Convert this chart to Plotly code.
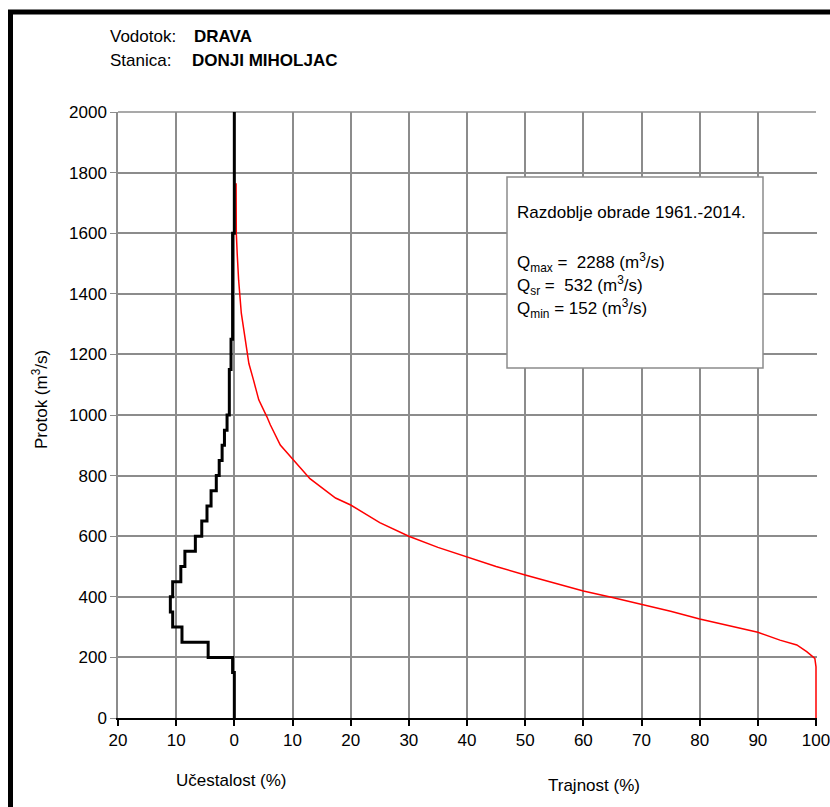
import plotly.graph_objects as go

# Frequency (Učestalost) histogram of discharge classes, in %
q_edges = [0, 150, 200, 250, 300, 350, 400, 450, 500, 550, 600, 650, 700, 750,
           800, 850, 900, 950, 1000, 1150, 1250, 1600, 2000]
freq = [0, 0.3, 4.5, 9.0, 10.6, 11.0, 10.6, 9.2, 8.5, 6.7, 5.6, 4.7, 4.0, 3.1,
        2.6, 2.1, 1.7, 1.25, 0.86, 0.57, 0.3, 0]

# Duration curve (Trajnost), %
dur_p = [0.3, 0.34, 0.5, 0.74, 1.2, 1.6, 2.5, 3.3, 4.2, 5.6, 6.2, 7.9, 10.0, 13.0,
         17.4, 20.0, 25.0, 30.0, 35.0, 40.0, 45.0, 50.0, 55.0, 60.0, 65.0, 70.0,
         75.0, 80.0, 85.0, 90.0, 93.8, 96.7, 98.4, 99.8, 100.0, 100.0]
dur_q = [1765, 1600, 1530, 1445, 1336, 1280, 1170, 1115, 1050, 994, 967, 901, 855, 790,
         726, 703, 645, 600, 563, 531, 500, 472, 445, 419, 398, 376,
         352, 327, 305, 283, 257, 241, 219, 197, 169, 0]

x_ticks = [-20, -10, 0, 10, 20, 30, 40, 50, 60, 70, 80, 90, 100]
x_tick_text = [str(abs(v)) for v in x_ticks]
y_ticks = list(range(0, 2001, 200))

# step coordinates for the frequency polygon
fx, fy = [], []
for i, f in enumerate(freq):
    fx += [-f, -f]
    fy += [q_edges[i], q_edges[i + 1]]

W, H = 830, 807
L, R, T, B = 118, 13, 112, 89
PW, PH = W - L - R, H - T - B
X_MAX = 100 + 120 / 698  # one extra pixel so the 100 % line is not clipped


def px(x):
    return (x - L) / PW


def py(y):
    return (H - B - y) / PH


fig = go.Figure()
fig.add_trace(go.Scatter(x=dur_p, y=dur_q, mode="lines",
                         line=dict(color="#ff0000", width=1.5), showlegend=False))
fig.add_trace(go.Scatter(x=fx, y=fy, mode="lines",
                         line=dict(color="#000000", width=3), showlegend=False))

font = "Liberation Sans, Arial, sans-serif"
FS = 17
fig.update_layout(
    width=W, height=H, autosize=False, showlegend=False,
    margin=dict(l=L, r=R, t=T, b=B, pad=0),
    paper_bgcolor="white", plot_bgcolor="white",
    font=dict(family=font, size=FS, color="black"),
    xaxis=dict(range=[-20, X_MAX], tickvals=x_ticks, ticktext=x_tick_text,
               showgrid=True, gridcolor="#8c8c8c", gridwidth=1.5,
               zeroline=False, showline=True, linecolor="black", linewidth=2,
               ticks="outside", ticklen=6, tickcolor="black", tickwidth=1.5,
               tickfont=dict(size=FS), automargin=False,
               ticklabeloverflow="allow"),
    yaxis=dict(range=[0, 2000], tickvals=y_ticks,
               showgrid=True, gridcolor="#8c8c8c", gridwidth=1.5,
               zeroline=False, showline=True, linecolor="#8c8c8c", linewidth=1.5,
               ticks="outside", ticklen=6, tickcolor="#8c8c8c",
               tickfont=dict(size=FS), automargin=False),
)

# plot-area top frame line (gray), below the data
fig.add_shape(type="line", xref="x", yref="paper", x0=-20, x1=100, y0=1, y1=1,
              line=dict(color="#8c8c8c", width=1.5), layer="below")

# outer border: left and top edges visible (rest lies outside the picture)
fig.add_shape(type="line", xref="paper", yref="paper",
              x0=px(10.5), x1=px(10.5), y0=py(H + 5), y1=py(12),
              line=dict(color="black", width=5))
fig.add_shape(type="line", xref="paper", yref="paper",
              x0=px(8), x1=px(W + 5), y0=py(12), y1=py(12),
              line=dict(color="black", width=5))

# info box
fig.add_shape(type="rect", xref="paper", yref="paper",
              x0=px(507), x1=px(763), y0=py(368), y1=py(177),
              line=dict(color="#8c8c8c", width=1.5), fillcolor="white")

ann = [
    (108, 37, "Vodotok:"),
    (192, 37, "<b>DRAVA</b>"),
    (108, 61, "Stanica:"),
    (190, 61, "<b>DONJI MIHOLJAC</b>"),
    (515, 213, "Razdoblje obrade 1961.-2014."),
    (515, 262, "Q<sub>max</sub> =  2288 (m<sup>3</sup>/s)"),
    (515, 285, "Q<sub>sr</sub> =  532 (m<sup>3</sup>/s)"),
    (515, 308, "Q<sub>min</sub> = 152 (m<sup>3</sup>/s)"),
]
for x, y, t in ann:
    fig.add_annotation(x=px(x), y=py(y), xref="paper", yref="paper",
                       xanchor="left", yanchor="middle",
                       text=t, showarrow=False, font=dict(size=FS))

for txt, cx, cy in [("Učestalost (%)", 231, 780), ("Trajnost (%)", 594, 785)]:
    fig.add_annotation(x=px(cx), y=py(cy), xref="paper", yref="paper",
                       xanchor="center", yanchor="middle",
                       text=txt, showarrow=False, font=dict(size=FS))

fig.add_annotation(x=px(40), y=py(400), xref="paper", yref="paper",
                   xanchor="center", yanchor="middle", textangle=-90,
                   text="Protok (m<sup>3</sup>/s)", showarrow=False,
                   font=dict(size=FS))

fig.write_html("out.html")
